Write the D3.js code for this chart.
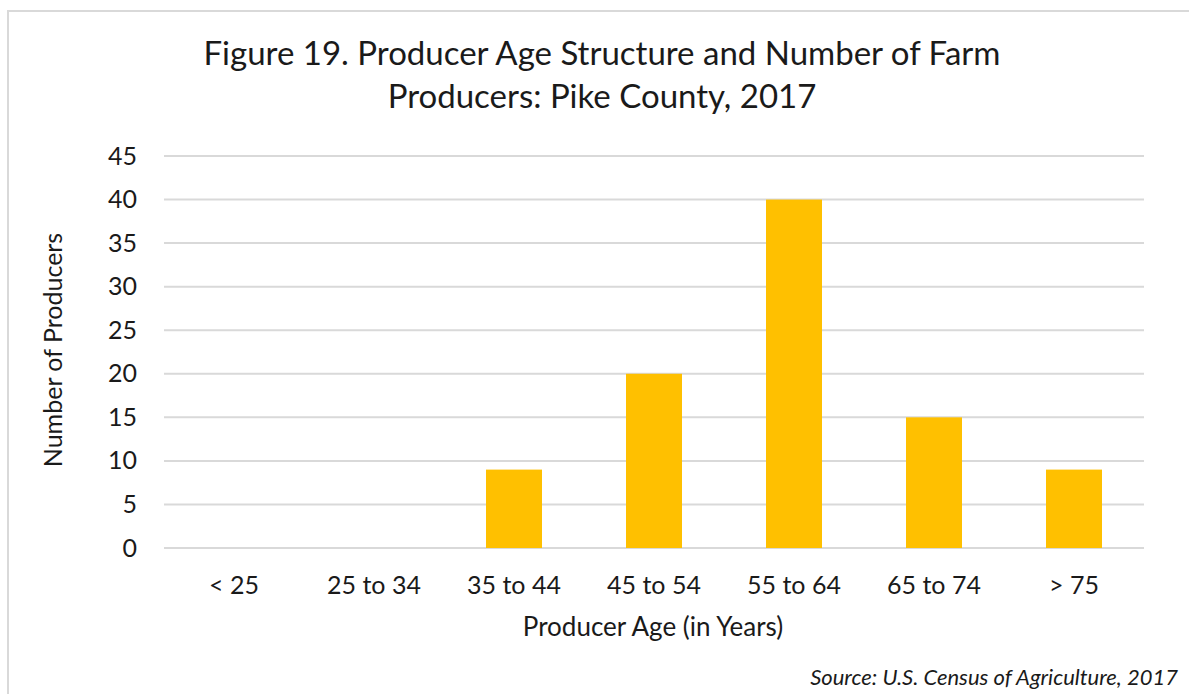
<!DOCTYPE html>
<html>
<head>
<meta charset="utf-8">
<script src="https://cdn.jsdelivr.net/npm/d3@7"></script>
<style>
  body { margin: 0; background: #fff; }
  text { font-family: Lato, "Open Sans", sans-serif; fill: #1a1a1a; }
</style>
</head>
<body>
<script>
var categories = ['< 25', '25 to 34', '35 to 44', '45 to 54', '55 to 64', '65 to 74', '> 75'];
var producers = [0, 0, 9, 20, 40, 15, 9];
var yTicks = [0, 5, 10, 15, 20, 25, 30, 35, 40, 45];
var titleLines = ['Figure 19. Producer Age Structure and Number of Farm', 'Producers: Pike County, 2017'];

var width = 1189, height = 694;
var plot = {left: 164, right: 1144, top: 156, bottom: 548};

var svg = d3.select('body').append('svg')
  .attr('width', width)
  .attr('height', height);

// outer frame (right and bottom run off the picture)
svg.append('rect')
  .attr('x', 8).attr('y', 11)
  .attr('width', 1200).attr('height', 700)
  .attr('fill', 'none')
  .attr('stroke', '#d9d9d9')
  .attr('stroke-width', 2);

var x = d3.scaleBand()
  .domain(categories)
  .range([plot.left, plot.right])
  .paddingInner(0.6)
  .paddingOuter(0.3);

var y = d3.scaleLinear()
  .domain([0, 45])
  .range([plot.bottom, plot.top]);

// gridlines
svg.append('g').selectAll('line')
  .data(yTicks)
  .enter().append('line')
  .attr('x1', plot.left).attr('x2', plot.right)
  .attr('y1', function(d) { return y(d); })
  .attr('y2', function(d) { return y(d); })
  .attr('stroke', '#d9d9d9')
  .attr('stroke-width', 2);

// bars
svg.append('g').selectAll('rect')
  .data(producers)
  .enter().append('rect')
  .attr('x', function(d, i) { return x(categories[i]); })
  .attr('y', function(d) { return y(d); })
  .attr('width', x.bandwidth())
  .attr('height', function(d) { return y(0) - y(d); })
  .attr('fill', '#ffc000');

// y axis labels
var yAxis = svg.append('g')
  .attr('transform', 'translate(' + (plot.left - 27) + ',0)')
  .call(d3.axisLeft(y).tickValues(yTicks).tickSize(0).tickPadding(0));
yAxis.select('.domain').remove();
yAxis.selectAll('text')
  .attr('font-size', 25)
  .attr('font-family', 'Lato, sans-serif')
  .attr('fill', '#1a1a1a');

// x axis labels
var xAxis = svg.append('g')
  .attr('transform', 'translate(0,' + (plot.bottom + 28) + ')')
  .call(d3.axisBottom(x).tickSize(0).tickPadding(0));
xAxis.select('.domain').remove();
xAxis.selectAll('text')
  .attr('font-size', 25)
  .attr('font-family', 'Lato, sans-serif')
  .attr('fill', '#1a1a1a');

// titles
svg.append('g').selectAll('text')
  .data(titleLines)
  .enter().append('text')
  .attr('x', 602)
  .attr('y', function(d, i) { return 65 + i * 43; })
  .attr('text-anchor', 'middle')
  .attr('font-size', 33)
  .text(function(d) { return d; });

svg.append('text')
  .attr('x', 653)
  .attr('y', 636)
  .attr('text-anchor', 'middle')
  .attr('font-size', 26)
  .text('Producer Age (in Years)');

svg.append('text')
  .attr('transform', 'translate(62,350) rotate(-90)')
  .attr('text-anchor', 'middle')
  .attr('font-size', 25)
  .text('Number of Producers');

svg.append('text')
  .attr('x', 1178)
  .attr('y', 685)
  .attr('text-anchor', 'end')
  .attr('font-size', 22)
  .attr('font-style', 'italic')
  .text('Source: U.S. Census of Agriculture, 2017');
</script>
</body>
</html>
